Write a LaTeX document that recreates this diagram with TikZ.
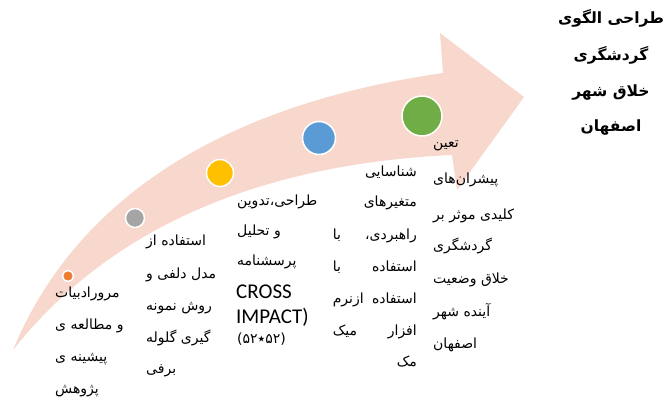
\documentclass[tikz,border=0pt]{standalone}
\usepackage{fontspec}
\TeXXeTstate=1
\newfontfamily\fa[Script=Arabic]{DejaVu Sans}
\newfontfamily\carl{Carlito}
\newcommand\rtltext[1]{\beginR#1\endR}
\definecolor{arrowpink}{RGB}{248,215,204}
\definecolor{dotorange}{RGB}{237,125,49}
\definecolor{dotgray}{RGB}{165,165,165}
\definecolor{dotyellow}{RGB}{255,192,0}
\definecolor{dotblue}{RGB}{91,155,213}
\definecolor{dotgreen}{RGB}{112,173,71}
\begin{document}
\begin{tikzpicture}[x=1pt,y=-1pt,
  fatxt/.style={inner sep=0pt, font=\fa\fontsize{14}{16}\selectfont, text height=10pt, text depth=4pt},
  titletxt/.style={inner sep=0pt, font=\fa\bfseries\fontsize{15.5}{17}\selectfont, text height=11pt, text depth=4pt},
  entxt/.style={inner sep=0pt, font=\carl\fontsize{21}{22}\selectfont, text height=14pt, text depth=1pt},
  dot/.style={circle, draw=white, line width=1.5pt, inner sep=0pt}]
\useasboundingbox (0,0) rectangle (669,398);
% arrow
\fill[arrowpink] (13,350) .. controls (75,200) and (220,105) .. (443,73)
  -- (440,33) -- (524,97) -- (457,190) -- (452,155)
  .. controls (240,165) and (100,240) .. (13,350) -- cycle;
% dots
\node[dot, fill=dotorange, minimum size=11pt] (d1) at (68,276) {};
\node[dot, fill=dotgray, minimum size=19pt] (d2) at (135,218) {};
\node[dot, fill=dotyellow, minimum size=27pt] (d3) at (220,173) {};
\node[dot, fill=dotblue, minimum size=33pt] (d4) at (319,138) {};
\node[dot, fill=dotgreen, minimum size=40pt] (d5) at (422,116) {};
% block 1
\node[fatxt, anchor=west] (a1) at (55,294) {\rtltext{مرورادبیات}};
\node[fatxt, anchor=west] (a2) at (55,326) {\rtltext{و مطالعه ی}};
\node[fatxt, anchor=west] (a3) at (55,358) {\rtltext{پیشینه ی}};
\node[fatxt, anchor=west] (a4) at (55,390) {\rtltext{پژوهش}};
% block 2
\node[fatxt, anchor=west] (b1) at (146,242) {\rtltext{استفاده از}};
\node[fatxt, anchor=west] (b2) at (146,275) {\rtltext{مدل دلفی و}};
\node[fatxt, anchor=west] (b3) at (146,307) {\rtltext{روش نمونه}};
\node[fatxt, anchor=west] (b4) at (146,339) {\rtltext{گیری گلوله}};
\node[fatxt, anchor=west] (b5) at (146,370) {\rtltext{برفی}};
% block 3
\node[fatxt, anchor=west] (c1) at (237,202) {\rtltext{طراحی،تدوین}};
\node[fatxt, anchor=west] (c2) at (237,232) {\rtltext{و تحلیل}};
\node[fatxt, anchor=west] (c3) at (237,262) {\rtltext{پرسشنامه}};
\node[entxt, anchor=west] (c4) at (236,292) {CROSS};
\node[entxt, anchor=west] (c5) at (236,317) {IMPACT)};
\node[fatxt, anchor=west] (c6) at (237,340) {(۵۲٭۵۲)};
% block 4
\node[fatxt, anchor=east] (e1) at (417,174) {\rtltext{شناسایی}};
\node[fatxt, anchor=east] (e2) at (417,204) {\rtltext{متغیرهای}};
\node[fatxt, anchor=east] (e3) at (417,236) {\hbox to 84pt{\beginR راهبردی،\hfil با\endR}};
\node[fatxt, anchor=east] (e4) at (417,268) {\hbox to 84pt{\beginR استفاده\hfil با\endR}};
\node[fatxt, anchor=east] (e5) at (417,300) {\hbox to 84pt{\beginR استفاده\hfil ازنرم\endR}};
\node[fatxt, anchor=east] (e6) at (417,332) {\hbox to 84pt{\beginR افزار\hfil میک\endR}};
\node[fatxt, anchor=east] (e7) at (417,363) {\rtltext{مک}};
% block 5
\node[fatxt, anchor=west] (f1) at (433,145) {\rtltext{تعین}};
\node[fatxt, anchor=west] (f2) at (433,181) {\rtltext{پیشران‌های}};
\node[fatxt, anchor=west] (f3) at (433,216) {\rtltext{کلیدی موثر بر}};
\node[fatxt, anchor=west] (f4) at (433,248) {\rtltext{گردشگری}};
\node[fatxt, anchor=west] (f5) at (433,280) {\rtltext{خلاق وضعیت}};
\node[fatxt, anchor=west] (f6) at (433,313) {\rtltext{آینده شهر}};
\node[fatxt, anchor=west] (f7) at (433,345) {\rtltext{اصفهان}};
% title
\node[titletxt] (t1) at (611,20) {\rtltext{طراحی الگوی}};
\node[titletxt] (t2) at (611,57) {\rtltext{گردشگری}};
\node[titletxt] (t3) at (611,93) {\rtltext{خلاق شهر}};
\node[titletxt] (t4) at (611,128) {\rtltext{اصفهان}};
\end{tikzpicture}
\end{document}
